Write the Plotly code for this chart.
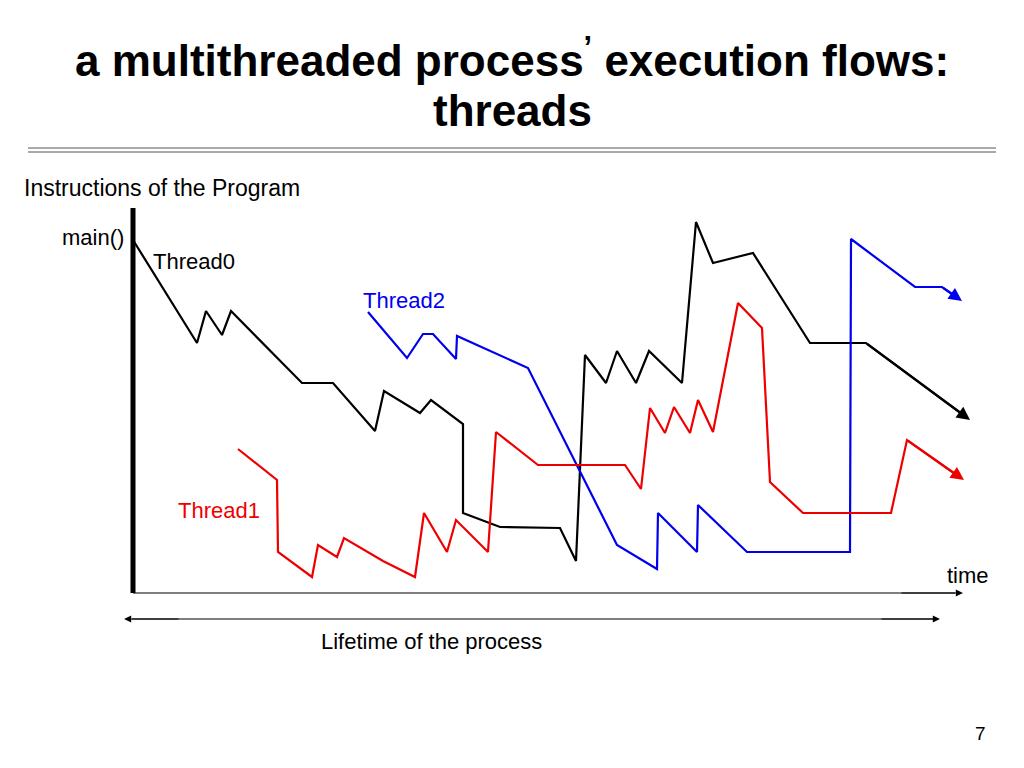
import plotly.graph_objects as go

# slide laid out in pixel-like units (x right, y down)
t0_x = [133, 197, 206, 222, 231, 302, 333, 375, 384, 420, 431, 463, 463, 500, 560, 576, 585, 606, 617, 636, 649, 682, 696, 713, 753, 810, 866, 962]
t0_y = [240, 343, 311, 335, 311, 383, 383, 431, 391, 413, 400, 424, 513, 527, 528, 561, 355, 383, 351, 383, 351, 383, 222, 263, 253, 343, 343, 414]

t2_x = [368, 407, 423, 433, 456, 457, 528, 617, 657, 658, 697, 698, 747, 794, 850, 851, 915, 942, 955]
t2_y = [312, 358, 334, 334, 359, 336, 368, 545, 569, 513, 552, 505, 552, 552, 552, 239, 287, 287, 296]

t1_x = [238, 277, 278, 312, 318, 337, 344, 383, 415, 424, 447, 456, 488, 496, 538, 625, 641, 650, 665, 674, 690, 698, 713, 738, 762, 770, 803, 891, 907, 958]
t1_y = [449, 480, 552, 577, 545, 557, 538, 561, 577, 513, 552, 520, 552, 432, 465, 465, 489, 408, 433, 407, 433, 400, 432, 303, 328, 482, 513, 513, 440, 476]

series = [(t0_x, t0_y, "black"), (t2_x, t2_y, "#0000ee"), (t1_x, t1_y, "#ee0000")]
F = "Liberation Sans, Arial"

fig = go.Figure()
for xs, ys, c in series:
    fig.add_trace(go.Scatter(x=xs, y=ys, mode="lines", line=dict(color=c, width=2.2), hoverinfo="skip"))

shapes = [
    dict(type="line", x0=133, x1=133, y0=208, y1=593, line=dict(color="black", width=5)),
    dict(type="line", x0=133, x1=955, y0=593, y1=593, line=dict(color="black", width=1.2)),
    dict(type="line", x0=132, x1=933, y0=619, y1=619, line=dict(color="black", width=1.2)),
    dict(type="line", x0=28, x1=996, y0=148, y1=148, line=dict(color="#555", width=1)),
    dict(type="line", x0=28, x1=996, y0=152, y1=152, line=dict(color="#555", width=1)),
]

def arrow(x, y, ax, ay, c, w=2.2):
    return dict(x=x, y=y, ax=ax, ay=ay, xref="x", yref="y", axref="x", ayref="y",
                text="", showarrow=True, arrowhead=2, arrowsize=1.2, arrowwidth=w, arrowcolor=c)

anns = [
    arrow(970, 420, t0_x[-2], t0_y[-2], "black"),
    arrow(962, 301, t2_x[-2], t2_y[-2], "#0000ee"),
    arrow(964, 480, t1_x[-2], t1_y[-2], "#ee0000"),
    arrow(963, 593, 900, 593, "black", 1.2),
    arrow(940, 619, 880, 619, "black", 1.2),
    arrow(124, 619, 180, 619, "black", 1.2),
]

def txt(x, y, s, size=22, color="black", xa="left", bold=False):
    return dict(x=x, y=y, xref="x", yref="y", text=f"<b>{s}</b>" if bold else s, showarrow=False,
                xanchor=xa, yanchor="middle", font=dict(family=F, size=size, color=color))

anns += [
    txt(512, 57, "a multithreaded process<sup>’</sup> execution flows:", 44, xa="center", bold=True),
    txt(512, 110, "threads", 44, xa="center", bold=True),
    txt(22, 188, "Instructions of the Program", 23),
    txt(126, 237, "main()", 22, xa="right"),
    txt(151, 261, "Thread0", 22),
    txt(361, 300, "Thread2", 22, color="#0000ee"),
    txt(176, 510, "Thread1", 22, color="#ee0000"),
    txt(945, 575, "time", 22),
    txt(431, 641, "Lifetime of the process", 22, xa="center"),
    txt(988, 733, "7", 19, xa="right"),
]

fig.update_layout(
    width=1024, height=768, margin=dict(l=0, r=0, t=0, b=0),
    plot_bgcolor="white", paper_bgcolor="white", showlegend=False,
    xaxis=dict(range=[8, 1032], visible=False, fixedrange=True),
    yaxis=dict(range=[776, 8], visible=False, fixedrange=True),
    shapes=shapes, annotations=anns,
)
fig.write_html("out.html", config=dict(displayModeBar=False))
